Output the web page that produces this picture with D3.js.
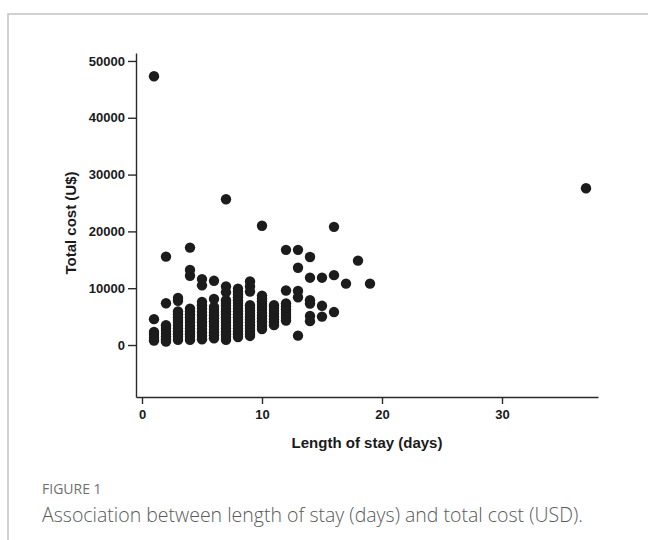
<!DOCTYPE html>
<html>
<head>
<meta charset="utf-8">
<script src="https://cdn.jsdelivr.net/npm/d3@7"></script>
<style>
	body { margin: 0; background: #fff; }
	.axis text { font-family: "Liberation Sans", Arial, sans-serif; font-weight: bold; font-size: 13px; fill: #1a1a1a; }
	.axis path, .axis line { stroke: #2a2a2a; stroke-width: 1.4; }
	.title { font-family: "Liberation Sans", Arial, sans-serif; font-weight: bold; font-size: 15px; fill: #1a1a1a; }
	.dot { fill: #1c1c1c; }
</style>
</head>
<body>
<div id="chart"></div>
<script>

// length of stay (days) on the x axis, one list of costs (US$) per day
var stayDays = [1, 2, 3, 4, 5, 6, 7, 8, 9, 10, 11, 12, 13, 14, 15, 16, 17, 18, 19, 37];
var costPerDay = [
	[47300, 4550, 2300, 1800, 1300, 800],
	[15550, 7350, 3500, 3000, 2500, 2000, 1500, 1000, 600],
	[8300, 7800, 5900, 5400, 4900, 4400, 3900, 3400, 2900, 2400, 1900, 1400, 900],
	[17150, 13200, 12200, 6400, 5900, 5400, 4900, 4400, 3900, 3400, 2900, 2400, 1900, 1400, 900],
	[11600, 10500, 7600, 7000, 6400, 5800, 5200, 4600, 4000, 3400, 2800, 2200, 1600, 1000],
	[11300, 8100, 6700, 6200, 5700, 5200, 4700, 4200, 3700, 3200, 2700, 2200, 1700, 1200],
	[25650, 10300, 9300, 7900, 7400, 6900, 6400, 5900, 5400, 4900, 4400, 3900, 3400, 2900, 2400, 1900, 1400, 900],
	[9900, 9400, 8900, 8400, 7900, 7400, 6900, 6400, 5900, 5400, 4900, 4400, 3900, 3400, 2900, 2400, 1900, 1400],
	[11200, 10300, 9400, 7000, 6500, 6000, 5500, 5000, 4500, 4000, 3500, 3000, 2500, 2000, 1600],
	[21000, 8700, 8200, 7700, 7200, 6700, 6200, 5700, 5200, 4700, 4200, 3700, 3200, 2800],
	[7000, 6500, 6000, 5500, 5000, 4500, 4000, 3500],
	[16750, 9600, 7300, 6800, 6300, 5800, 5300, 4800, 4300],
	[16750, 13600, 9500, 8400, 1650],
	[15500, 11850, 7900, 7300, 5100, 4200],
	[11850, 6900, 5000],
	[20800, 12300, 5800],
	[10800],
	[14850],
	[10800],
	[27600]
];
var xTicks = [0, 10, 20, 30];
var yTicks = [0, 10000, 20000, 30000, 40000, 50000];

var points = [];
stayDays.forEach(function(d, i) {
	costPerDay[i].forEach(function(c) { points.push({ days: d, cost: c }); });
});

var W = 648, H = 540;
var svg = d3.select("#chart").append("svg")
	.attr("width", W).attr("height", H);

// panel border (top and left visible)
svg.append("rect")
	.attr("x", 8).attr("y", 14)
	.attr("width", 700).attr("height", 600)
	.attr("fill", "none")
	.attr("stroke", "#c6c6c6")
	.attr("stroke-width", 1.6);

var x = d3.scaleLinear().domain([-0.5, 38]).range([136, 598]);
var y = d3.scaleLinear().domain([-9150, 51400]).range([397, 53]);

svg.append("g")
	.attr("class", "axis")
	.attr("transform", "translate(0,397)")
	.call(d3.axisBottom(x).tickValues(xTicks).tickFormat(d3.format("d"))
		.tickSize(7).tickSizeOuter(0).tickPadding(6));

svg.append("g")
	.attr("class", "axis")
	.attr("transform", "translate(136,0)")
	.call(d3.axisLeft(y).tickValues(yTicks).tickFormat(d3.format("d"))
		.tickSize(8).tickSizeOuter(0).tickPadding(3));

// axis titles
svg.append("text")
	.attr("class", "title")
	.attr("x", 367).attr("y", 448)
	.attr("text-anchor", "middle")
	.text("Length of stay (days)");

svg.append("text")
	.attr("class", "title")
	.attr("transform", "translate(76,223) rotate(-90)")
	.attr("text-anchor", "middle")
	.text("Total cost (U$)");

// the dots
svg.selectAll("circle.dot")
	.data(points)
	.enter().append("circle")
	.attr("class", "dot")
	.attr("cx", function(d) { return x(d.days); })
	.attr("cy", function(d) { return y(d.cost); })
	.attr("r", 5.2);

// caption
svg.append("text")
	.attr("x", 42).attr("y", 494)
	.style("font-family", "'Open Sans', sans-serif")
	.style("font-size", "14px")
	.style("fill", "#707070")
	.text("FIGURE 1");

svg.append("text")
	.attr("x", 42).attr("y", 522)
	.style("font-family", "'Open Sans', sans-serif")
	.style("font-size", "19.5px")
	.style("font-weight", "300")
	.style("fill", "#5a5a5a")
	.text("Association between length of stay (days) and total cost (USD).");

</script>
</body>
</html>
